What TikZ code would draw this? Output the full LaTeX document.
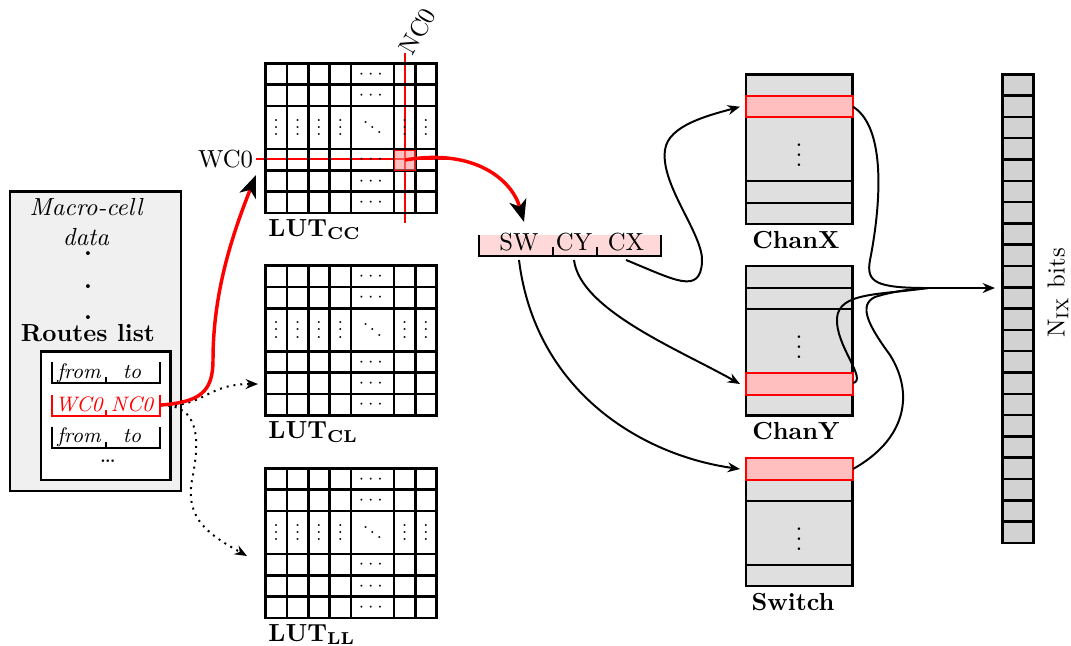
\documentclass[tikz,border=0pt]{standalone}
\usepackage{amsmath,amssymb}
\usepackage{tikz}
\usetikzlibrary{arrows.meta, calc}
\tikzset{
  lutline/.style={line width=1pt},
  lutdots/.style={font=\scriptsize, inner sep=0pt},
  hlcell/.style={fill=red!45, fill opacity=0.55, draw=red},
  selline/.style={red, line width=0.8pt},
  chanblock/.style={fill=gray!25, draw, line width=1pt},
  hlrow/.style={fill=red!25, draw=red, thick},
  flow/.style={thick, -{Stealth[length=5pt,width=4pt]}},
  redflow/.style={red, line width=1.4pt, -{Stealth[black,length=9pt,width=7pt,inset=2.5pt]}},
  dotflow/.style={thick, dotted, -{Stealth[length=5pt,width=4pt]}},
  routetext/.style={font=\fontsize{8.5}{10}\selectfont\itshape},
}
\newcommand{\lutcell}{21.4}
% small dots for the LUT cells
\newcommand{\lvdots}{\vbox{\baselineskip3pt\lineskiplimit0pt\hbox{.}\hbox{.}\hbox{.}}}
\newcommand{\lddots}{\mbox{\raisebox{4.4pt}{.}\kern0.5pt\raisebox{2.2pt}{.}\kern0.5pt{.}}}
% LUT matrix: name, left x, top y, label
\newcommand{\lutmat}[4]{%
  \coordinate (#1) at (#2,#3);
  \begin{scope}[shift={(#1)}]
    \draw[lutline] (0,0) rectangle (8*\lutcell,7*\lutcell);
    \foreach \cx in {1,2,3,4,6,7} \draw[lutline] (\cx*\lutcell,0) -- (\cx*\lutcell,7*\lutcell);
    \foreach \cy in {1,2,4,5,6} \draw[lutline] (0,\cy*\lutcell) -- (8*\lutcell,\cy*\lutcell);
    \foreach \cy in {0.5,1.5,4.5,5.5,6.5} \node[lutdots] at (5*\lutcell,\cy*\lutcell) {$\cdots$};
    \foreach \cx in {0.5,1.5,2.5,3.5,6.5,7.5} \node[lutdots] at (\cx*\lutcell,3*\lutcell) {\lvdots};
    \node[lutdots] at (5*\lutcell,3*\lutcell) {\lddots};
  \end{scope}
  \node[anchor=north west, inner sep=1pt] (#1lbl) at ($(#1)+(0,7*\lutcell+3)$) {#4};
}
% one line of the routes list: name, bottom y, from, to, colour
\newcommand{\routerow}[5]{%
  \draw[thick,#5] (52,#2-21) -- (52,#2) -- (160,#2) -- (160,#2-21) (106,#2) -- (106,#2-6);
  \node[anchor=base, routetext, #5] (#1from) at (79,#2-5) {#3};
  \node[anchor=base, routetext, #5] (#1to) at (132,#2-5) {#4};
}

\begin{document}
\begin{tikzpicture}[x=0.405pt, y=-0.405pt]
  \useasboundingbox (0,0) rectangle (1071,645);

  % Macro-cell data
  \draw[fill=gray!12, line width=1pt] (10,191.7) rectangle (181,491);
  \node[align=center, font=\itshape] (mcdata) at (86,222) {Macro-cell\\data};
  \foreach \i/\y in {1/254,2/287,3/318} \node[font=\bfseries, inner sep=0pt] (mcdot\i) at (88,\y) {.};
  \node[font=\bfseries] (routes) at (88,333) {Routes list};
  \draw[fill=white, line width=1pt] (41,351.7) rectangle (170.3,480);
  \routerow{ra}{383.3}{from}{to}{black}
  \routerow{rb}{416}{WC0}{NC0}{red}
  \routerow{rc}{447.7}{from}{to}{black}
  \node (rmore) at (108,461) {\dots};
  \coordinate (rt) at (161,405);

  % selected row and column, under the LUT
  \draw[selline] (256,159.3) -- (446.7,159.3);
  \draw[selline] (405,53) -- (405,222.7);
  \node[anchor=east, inner sep=1pt] (wc) at (256,159.3) {WC0};
  \node[anchor=west, rotate=60, inner sep=1pt] (nc) at (404,55) {NC0};

  % LUTs
  \lutmat{cc}{265.5}{63.3}{\textbf{LUT}$_{\mathbf{CC}}$}
  \lutmat{cl}{265.5}{265.7}{\textbf{LUT}$_{\mathbf{CL}}$}
  \lutmat{ll}{265.5}{468.3}{\textbf{LUT}$_{\mathbf{LL}}$}

  % selected entry
  \draw[hlcell] (394,150) rectangle (415.7,170.7);
  \coordinate (hl) at (405,160);

  % SW / CY / CX register
  \fill[red!15] (479,235) rectangle (661,255.7);
  \draw[thick] (479,235) -- (479,255.7) -- (661,255.7) -- (661,235)
    (553.3,255.7) -- (553.3,246.7) (596.7,255.7) -- (596.7,246.7);
  \node[anchor=base] (sw) at (519,250.7) {SW};
  \node[anchor=base] (cy) at (574,250.7) {CY};
  \node[anchor=base] (cx) at (626,250.7) {CX};

  % ChanX
  \draw[chanblock] (746,74.3) rectangle (852.7,224);
  \draw[hlrow] (746,96) rectangle (852.7,117.3);
  \draw[thick] (746,180.7) -- (852.7,180.7) (746,202.7) -- (852.7,202.7);
  \node (xdots) at (799,148) {$\vdots$};
  \node[font=\bfseries, anchor=north] (chanx) at (796,223) {ChanX};
  \coordinate (xin) at (740,106.7);
  \coordinate (xout) at (853,106.7);

  % ChanY
  \draw[chanblock] (746,266) rectangle (852.7,415.7);
  \draw[thick] (746,287.7) -- (852.7,287.7) (746,309.3) -- (852.7,309.3);
  \draw[hlrow] (746,373.3) rectangle (852.7,395);
  \node (ydots) at (799,340) {$\vdots$};
  \node[font=\bfseries, anchor=north] (chany) at (796,414) {ChanY};
  \coordinate (yin) at (740,384);
  \coordinate (yout) at (853,383);

  % Switch
  \draw[chanblock] (746,458.3) rectangle (852.7,586);
  \draw[hlrow] (746,458.3) rectangle (852.7,480);
  \draw[thick] (746,500.7) -- (852.7,500.7) (746,565) -- (852.7,565);
  \node (sdots) at (799,532) {$\vdots$};
  \node[font=\bfseries, anchor=north] (switch) at (793,585) {Switch};
  \coordinate (sin) at (740,469);
  \coordinate (sout) at (853,469);

  % N_IX bits
  \foreach \i in {0,...,21}
    \draw[fill=gray!35, line width=1pt] (1002.7,74.3+\i*21.3) rectangle (1033.3,95.6+\i*21.3);
  \node[rotate=90] (nixlbl) at (1058,293) {N$_{\mathrm{IX}}$ bits};
  \coordinate (nix) at (995,288);
  \coordinate (merge) at (928,288);

  % connectors
  \draw[dotflow] (rt) .. controls (205,408) and (205,384) .. (258,384);
  \draw[dotflow] (rt) .. controls (200,405) and (200,440) .. (192,480)
    .. controls (185,520) and (210,535) .. (247,556);
  \draw[redflow] (rt) .. controls (200,402) and (213,392) .. (213,360)
    .. controls (213,300) and (228,245) .. (256,175);
  \draw[redflow] (hl) .. controls (475,148) and (512,180) .. (524,222);

  \draw[flow] (sw.south) .. controls (535,390) and (640,455) .. (sin);
  \draw[flow] (cy.south) .. controls (580,310) and (680,350) .. (yin);
  \draw[flow] (cx.south) .. controls (675,280) and (700,295) .. (702,262)
    .. controls (704,235) and (660,185) .. (665,150)
    .. controls (668,125) and (710,115) .. (xin);

  \draw[thick] (xout) .. controls (890,130) and (878,220) .. (870,260)
    .. controls (866,282) and (875,288) .. (merge);
  \draw[thick] (yout) .. controls (868,380) and (835,345) .. (837,318)
    .. controls (839,292) and (880,295) .. (merge);
  \draw[thick] (sout) .. controls (905,440) and (915,395) .. (890,355)
    .. controls (868,325) and (858,305) .. (875,297)
    .. controls (890,292) and (910,289) .. (merge);
  \draw[flow] (merge) -- (nix);
\end{tikzpicture}
\end{document}
